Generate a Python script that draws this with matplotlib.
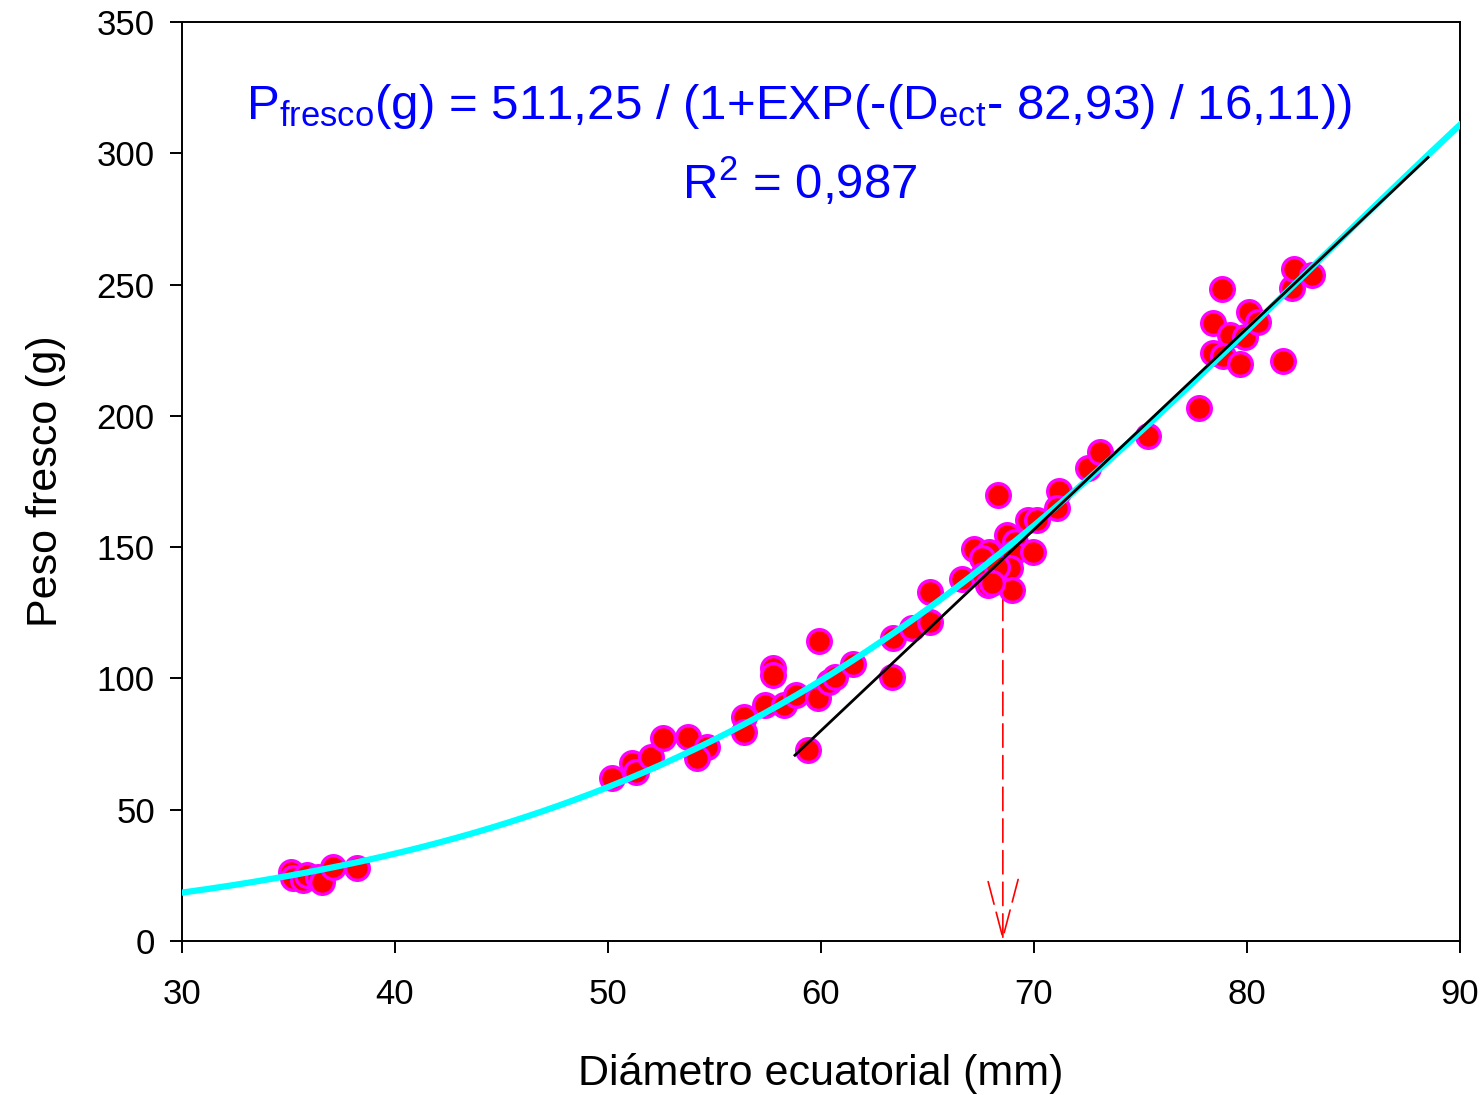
#! /usr/bin/env python3

"Peso fresco vs diametro ecuatorial, con ajuste sigmoidal y recta tangente"

import numpy as np
import matplotlib
matplotlib.use("Agg")
import matplotlib.pyplot as plt

plt.rcParams['font.family'] = ['Liberation Sans', 'DejaVu Sans']
plt.rcParams['mathtext.fontset'] = 'custom'
plt.rcParams['mathtext.rm'] = 'Liberation Sans'
plt.rcParams['mathtext.it'] = 'Liberation Sans'

# datos: diametro ecuatorial (mm) y peso fresco (g)
diametro = [35.12, 35.21, 35.68, 35.87, 36.38, 36.57, 37.09, 38.22,
            50.19, 51.13, 51.31, 52.02, 52.58, 53.76, 54.65, 54.18,
            56.38, 56.38, 57.37, 58.26, 58.83, 59.86, 60.38, 60.66,
            61.50, 57.75, 57.75, 59.91, 59.39, 63.33, 63.38,
            64.27, 65.12, 65.12, 66.62, 67.18, 67.89, 67.56, 67.61,
            67.84, 68.31, 68.73, 69.11, 69.01, 68.87, 68.97, 69.95,
            69.72, 70.14, 71.17, 71.08, 72.54, 73.10, 75.35, 68.26, 68.02,
            77.75, 78.83, 78.40, 79.20, 78.40, 78.87, 79.67, 79.91,
            80.09, 80.52, 81.69, 82.11, 82.21, 83.05]
peso = [26.3, 24.0, 23.2, 25.1, 24.4, 22.5, 28.2, 27.8,
        62.1, 67.8, 64.4, 70.1, 77.3, 77.7, 73.9, 69.7,
        85.3, 79.6, 89.9, 89.9, 93.7, 92.5, 98.6, 100.5,
        105.5, 104.0, 101.3, 114.3, 72.7, 100.5, 115.4,
        119.2, 132.9, 121.5, 137.9, 149.3, 148.2, 145.9, 139.4,
        135.6, 169.9, 154.6, 152.0, 147.8, 142.1, 133.7, 148.2,
        160.3, 160.3, 171.4, 164.9, 180.1, 186.2, 192.3, 142.4, 136.5,
        203.0, 248.3, 235.4, 230.8, 223.9, 222.8, 219.8, 230.0,
        239.6, 235.7, 220.9, 248.7, 255.9, 253.6]

# parametros del ajuste sigmoidal
a = 511.25
x0 = 82.93
b = 16.11

# recta tangente (pendiente e intercepto) y su rango
pendiente = 7.66
intercepto = -379.5
recta_x = [58.78, 88.50]

# diametro senalado con la flecha
d_flecha = 68.54
p_flecha = 143.0


def sigmoide(x):
    return a / (1 + np.exp(-(x - x0) / b))


fig = plt.figure(figsize=(14.84, 10.95), dpi=100)
ax = fig.add_axes([0.1226, 0.1406, 0.8612, 0.8393])

ax.annotate("", xy=(d_flecha, 0), xytext=(d_flecha, p_flecha),
            arrowprops=dict(arrowstyle='->,head_length=2.1,head_width=0.55',
                            mutation_scale=20, color='red', lw=1.2,
                            linestyle=(0, (14, 5)), shrinkA=0, shrinkB=0),
            zorder=1)

ax.scatter(diametro, peso, s=290, c='red', edgecolors='magenta',
           linewidths=2.4, zorder=2)

xs = np.linspace(30, 90, 300)
ax.plot(xs, sigmoide(xs), color='cyan', lw=4.5, zorder=3)

rx = np.array(recta_x)
ax.plot(rx, pendiente * rx + intercepto, color='black', lw=2, zorder=4)

ax.set_xlim(30, 90)
ax.set_ylim(0, 350)
ax.set_xticks(range(30, 91, 10))
ax.set_yticks(range(0, 351, 50))
ax.tick_params(direction='out', length=8.5, width=1.4, labelsize=25)
ax.tick_params(axis='x', pad=18)
ax.tick_params(axis='y', pad=11)
for s in ax.spines.values():
    s.set_linewidth(1.4)

ax.set_xlabel("Diámetro ecuatorial (mm)", fontsize=31, labelpad=30)
ax.set_ylabel("Peso fresco (g)", fontsize=31, labelpad=22)

ax.text(0.483, 0.908,
        r'P$_{\mathrm{fresco}}$(g) = 511,25 / (1+EXP(-(D$_{\mathrm{ect}}$- 82,93) / 16,11))',
        transform=ax.transAxes, ha='center', va='center', fontsize=35.5,
        color='blue')
ax.text(0.483, 0.825, r'R$^{2}$ = 0,987', transform=ax.transAxes,
        ha='center', va='center', fontsize=35.5, color='blue')

fig.savefig("out.png", dpi=100)
